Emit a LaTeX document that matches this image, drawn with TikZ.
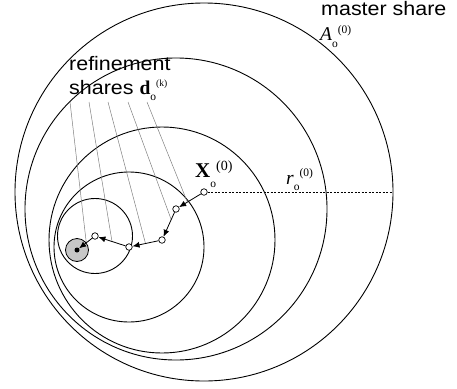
\documentclass[tikz,border=0pt]{standalone}
\usepackage{fontspec}
\setmainfont{Liberation Serif}
\newfontfamily\labelsans[FakeStretch=1.1]{Liberation Sans}
\usetikzlibrary{arrows.meta,backgrounds}
\tikzset{
  share/.style={draw=black, line width=0.9pt},
  waypoint/.style={circle, draw=black, fill=white, line width=0.7pt,
    minimum size=6.5pt, inner sep=0pt},
  target/.style={circle, fill=black, minimum size=5pt, inner sep=0pt},
  goal/.style={circle, draw=black, fill=black!22, line width=0.8pt,
    minimum size=23pt, inner sep=0pt},
  hop/.style={-{Latex[length=7pt,width=6pt]}, line width=0.8pt},
  leader/.style={draw=black!50, line width=0.5pt},
  caption/.style={font=\labelsans\fontsize{19.5}{22}\selectfont,
    anchor=base west, inner sep=0pt},
  symbol/.style={font=\fontsize{19.5}{22}\selectfont, anchor=base west, inner sep=0pt}
}
% base, lowering of o, raising of index, index size, index
\newcommand\idxlabel[5]{#1\rmfamily\upshape\mdseries
  \raisebox{-#2}{\fontsize{11.5}{11.5}\selectfont o}%
  \raisebox{#3}{\fontsize{#4}{#4}\selectfont(#5)}}

\begin{document}
\begin{tikzpicture}[x=1pt,y=-1pt]
  \useasboundingbox (0,0) rectangle (457,388);
  % centres of the shares
  \node[waypoint] (x0) at (204,192) {};
  \node[waypoint] (d1) at (176,209) {};
  \node[waypoint] (d2) at (162,240) {};
  \node[waypoint] (d3) at (129,247) {};
  \node[waypoint] (d4) at (95,236) {};
  \node[goal] (g) at (77,250) {};
  \node[target] (t) at (77,250) {};
  \coordinate (rim) at (393,192);
  \begin{scope}[on background layer]
    \draw[share] (x0.center) circle[radius=189pt];
    \draw[share] (d1.center) circle[radius=151pt];
    \draw[share] (d2.center) circle[radius=113pt];
    \draw[share] (d3.center) circle[radius=75pt];
    \draw[share] (d4.center) circle[radius=37.5pt];
  \end{scope}
  \draw[dash pattern=on 2pt off 1.5pt, line width=0.8pt] (x0) -- (rim);
  % refinement steps
  \draw[hop] (x0) -- coordinate[pos=0.62] (m1) (d1);
  \draw[hop] (d1) -- coordinate[pos=0.3] (m2) (d2);
  \draw[hop] (d2) -- coordinate[pos=0.5] (m3) (d3);
  \draw[hop] (d3) -- coordinate[pos=0.5] (m4) (d4);
  \draw[hop] (d4) -- coordinate[pos=0.45] (m5) (t);
  % labels
  \node[caption] (master) at (321,16) {master share};
  \node[symbol] (alabel) at (320,40) {\idxlabel{\itshape A}{7pt}{7pt}{11.5}{0}};
  \node[caption] (refine) at (69,70) {refinement};
  \node[caption] (shares) at (69,94)
    {shares \idxlabel{\rmfamily\bfseries d}{6pt}{8pt}{9.5}{k}};
  \node[symbol, font=\fontsize{21}{22}\selectfont] (xlabel) at (195,177)
    {\idxlabel{\bfseries X}{10pt}{7pt}{14}{0}};
  \node[symbol] (rlabel) at (286,184) {\idxlabel{\itshape r}{6pt}{8pt}{11.5}{0}};
  \coordinate (l1) at (70,102);
  \coordinate (l2) at (89,102);
  \coordinate (l3) at (108,102);
  \coordinate (l4) at (128,102);
  \coordinate (l5) at (147,102);
  \begin{scope}[on background layer]
    \draw[leader] (l1) -- (m5);
    \draw[leader] (l2) -- (m4);
    \draw[leader] (l3) -- (m3);
    \draw[leader] (l4) -- (m2);
    \draw[leader] (l5) -- (m1);
  \end{scope}
\end{tikzpicture}
\end{document}
